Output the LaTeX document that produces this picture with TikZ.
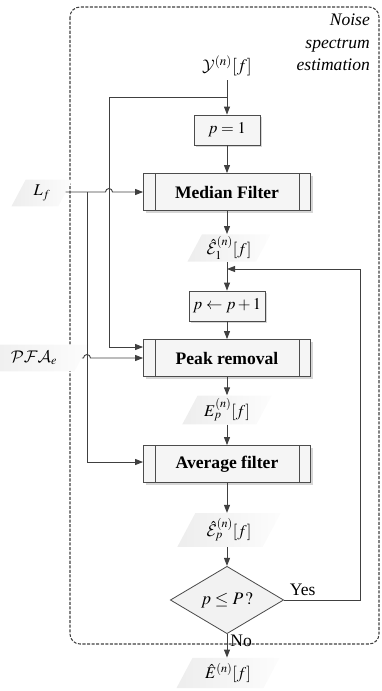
\documentclass[tikz,border=0pt]{standalone}
\usepackage{amsmath, amssymb}
\usepackage{mathptmx}
\DeclareMathAlphabet{\mathcal}{OMS}{cmsy}{m}{n}
\usepackage[no-math]{fontspec}
\setmainfont{Liberation Serif}
\usepackage{tikz}
\usetikzlibrary{shapes.geometric, arrows.meta, shadows, calc}

\tikzset{
	line/.style={draw=black!75, line width=0.8pt},
	arr/.style={line, -{Triangle[length=2.4mm, width=1.8mm]}},
	procbox/.style={draw=black!70, line width=0.7pt, fill=gray!8, minimum width=50.1mm, minimum height=11.1mm,
		font=\fontsize{15}{17}\selectfont\bfseries, drop shadow={shadow xshift=0.6mm, shadow yshift=-0.6mm, fill=gray!40, opacity=0.8}},
	stepbox/.style={procbox, font=\fontsize{14}{16}\selectfont, minimum height=9mm},
	datalabel/.style={trapezium, trapezium left angle=62, trapezium right angle=118, left color=gray!14, right color=gray!2,
		minimum height=7.5mm, inner xsep=1mm, inner ysep=0.5mm, font=\fontsize{14}{16}\selectfont},
	decision/.style={diamond, draw=black!70, line width=0.7pt, fill=gray!10, minimum width=34mm, minimum height=16mm,
		inner sep=0pt, font=\fontsize{15}{17}\selectfont},
	plaintext/.style={font=\fontsize{15}{17}\selectfont}
}

\begin{document}
\begin{tikzpicture}[x=0.3mm, y=0.3mm]
	\useasboundingbox (0,0) rectangle (381,-691);

	% Dashed frame of the estimation block
	\draw[black!75, line width=0.9pt, dash pattern=on 2.6pt off 1.3pt, rounded corners=3mm] (70,-7) rectangle (379,-644);
	\node[anchor=north east, align=right, font=\fontsize{15}{19}\selectfont\itshape] (title) at (374,-10) {Noise\\spectrum\\estimation};

	% Processing blocks
	\node[plaintext] (ylab) at (227,-66) {$\mathcal{Y}^{(n)}[f]$};
	\node[stepbox, minimum width=19.8mm] (p1) at (227,-130) {$p=1$};
	\node[procbox] (mf) at (227,-192) {Median Filter};
	\node[datalabel, minimum width=25mm] (e1) at (229,-248) {$\hat{\mathcal{E}}_1^{(n)}[f]$};
	\node[stepbox, minimum width=21.6mm] (pp) at (227,-306) {$p\leftarrow p+1$};
	\node[procbox] (pr) at (227,-358) {Peak removal};
	\node[datalabel, minimum width=27mm] (ep) at (227,-410) {$E_p^{(n)}[f]$};
	\node[procbox] (af) at (227,-464) {Average filter};
	\node[datalabel, minimum width=31mm] (eph) at (229,-530) {$\hat{\mathcal{E}}_p^{(n)}[f]$};
	\node[decision] (dec) at (227,-600) {$p\leq P\,?$};
	\node[datalabel, minimum width=31mm, minimum height=9mm] (eh) at (228,-673) {$\hat{E}^{(n)}[f]$};

	% Side inputs
	\node[datalabel, minimum width=14mm, minimum height=8mm] (lf) at (42,-193) {$L_f$};
	\node[datalabel, minimum width=16mm, minimum height=8mm] (pfa) at (34,-358) {$\mathcal{PFA}_e$};

	% Inner bars of the predefined processes
	\foreach \n in {mf, pr, af} {
		\draw[black!70, line width=0.6pt] ([xshift=3.6mm]\n.north west) -- ([xshift=3.6mm]\n.south west);
		\draw[black!70, line width=0.6pt] ([xshift=-3.6mm]\n.north east) -- ([xshift=-3.6mm]\n.south east);
	}

	% Junctions
	\coordinate (ysplit) at (227,-97);
	\coordinate (ybus) at (109,-97);
	\coordinate (lfsplit) at (87,-192);
	\coordinate (fb) at (227,-269);
	\coordinate (loop) at (360,-269);

	% Main flow
	\draw[line] (ylab.south) -- (ysplit);
	\draw[arr] (ysplit) -- (p1);
	\draw[arr] (p1) -- (mf);
	\draw[arr] (mf) -- (e1.north -| mf.south);
	\draw[arr] (e1.south -| fb) -- (pp);
	\draw[arr] (pp) -- (pr);
	\draw[arr] (pr) -- (ep.north -| pr.south);
	\draw[arr] (ep.south -| af.north) -- (af);
	\draw[arr] (af) -- (eph.north -| af.south);
	\draw[arr] (eph.south -| dec.north) -- (dec);
	\draw[arr] (dec) -- (eh.north -| dec.south);
	\node[plaintext, anchor=north west, inner sep=1pt] (no) at ([xshift=0.6mm, yshift=0.3mm]dec.south) {No};

	% Loop back
	\draw[arr] (dec.east) -| (loop) -- (fb);
	\node[plaintext, anchor=south west] (yes) at ([xshift=0.5mm]dec.east) {Yes};

	% Spectrum to peak removal
	\draw[arr] (ysplit) -- (ybus) |- ([yshift=3.3mm]pr.west);

	% Length input with hop
	\draw[arr] (lf.east |- lfsplit) -- (105.5,-192) arc[start angle=180, end angle=0, radius=1.05mm] -- (mf.west);
	\draw[arr] (lfsplit) |- ([yshift=0.6mm]af.west);

	% False alarm input with hop
	\draw[arr] (pfa.east) -- (83.5,-358) arc[start angle=180, end angle=0, radius=1.05mm] -- (pr.west);
\end{tikzpicture}
\end{document}
